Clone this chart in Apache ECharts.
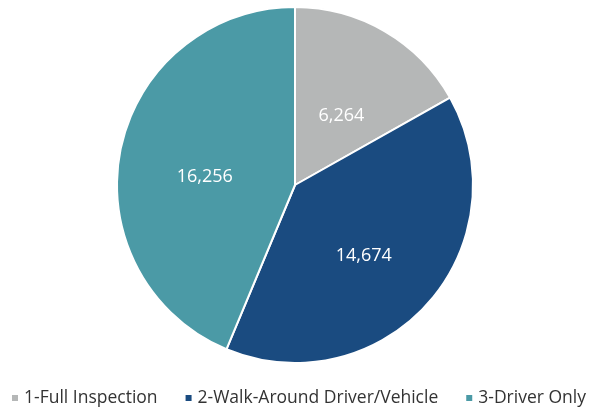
<!DOCTYPE html>
<html><head><meta charset="utf-8">
<script src="https://cdn.jsdelivr.net/npm/echarts@6/dist/echarts.min.js"></script>
<style>html,body{margin:0;padding:0;background:#fff}#c{width:594px;height:409px}</style>
</head><body><div id="c"></div>
<script>
const categories = ['1-Full Inspection', '2-Walk-Around Driver/Vehicle', '3-Driver Only'];
const values = [6264, 14674, 16256];
const colors = ['#b5b7b7', '#1a4b80', '#4b9aa6'];

const chart = echarts.init(document.getElementById('c'));
chart.setOption({
  animation: false,
  color: colors,
  legend: {
    bottom: 2,
    left: 10,
    width: 584,
    padding: 0,
    itemWidth: 8,
    itemHeight: 8,
    itemGap: 26,
    icon: 'rect',
    textStyle: { fontFamily: 'Open Sans', fontSize: 17.5, color: '#333' },
    data: categories
  },
  series: [{
    type: 'pie',
    center: [295, 185],
    radius: [0, 178],
    startAngle: 90,
    clockwise: true,
    itemStyle: { borderColor: '#fff', borderWidth: 2 },
    label: {
      position: 'inside',
      color: '#fff',
      fontFamily: 'Open Sans',
      fontSize: 18,
      formatter: p => p.value.toLocaleString('en-US')
    },
    labelLayout: { dy: 10 },
    labelLine: { show: false },
    emphasis: { disabled: true },
    data: categories.map((n, i) => ({ name: n, value: values[i] }))
  }]
});
</script></body></html>
